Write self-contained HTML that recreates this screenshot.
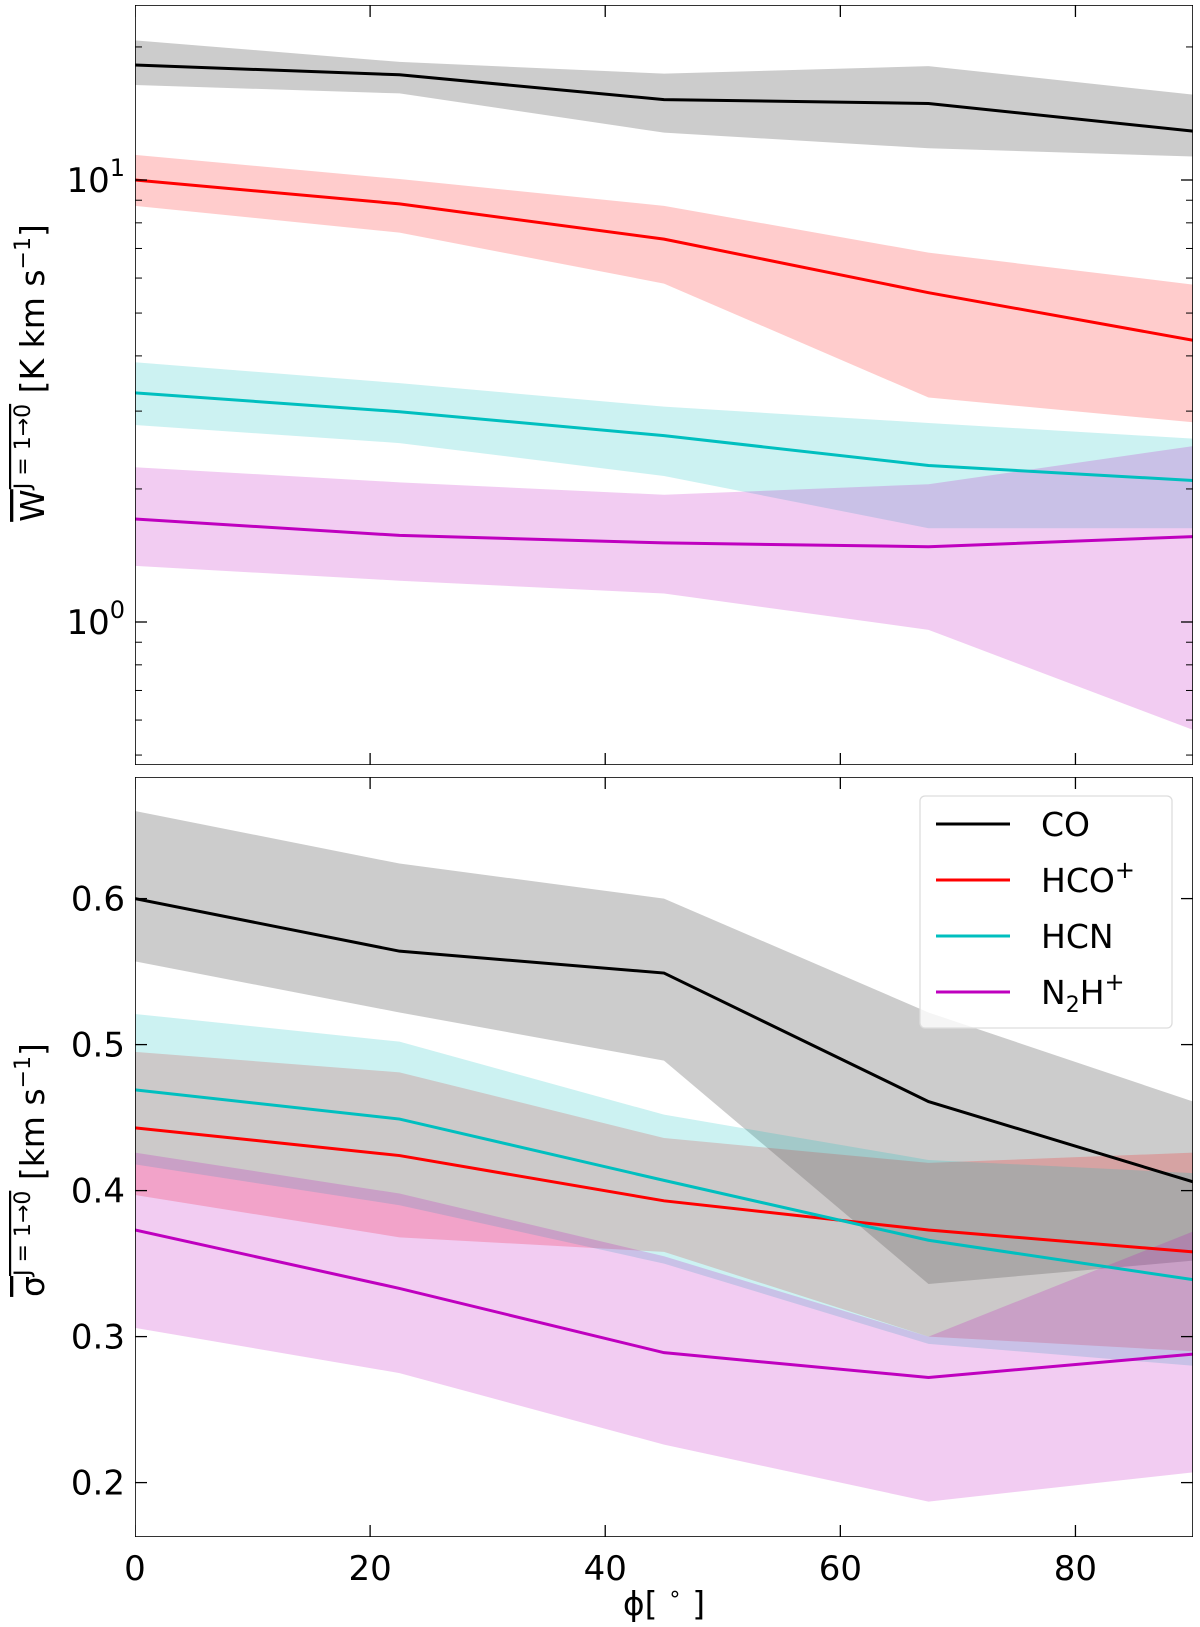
<!DOCTYPE html>
<html><head><meta charset="utf-8"><style>
html,body{margin:0;padding:0;background:#fff;}
svg{display:block;font-family:"DejaVu Sans","Liberation Sans",sans-serif;}
</style></head><body>
<svg id="chart" width="1200" height="1627" viewBox="0 0 1200 1627" xmlns="http://www.w3.org/2000/svg">
<g id="top-panel"></g>
<g id="bot-panel"></g>
<text transform="translate(44,373) rotate(-90)" text-anchor="middle" font-size="33"><tspan text-decoration="overline">W<tspan font-size="22" dy="-14">J = 1→0</tspan></tspan><tspan dy="14"> [K km s</tspan><tspan font-size="22" dy="-14">−1</tspan><tspan dy="14">]</tspan></text>
<text transform="translate(44,1170) rotate(-90)" text-anchor="middle" font-size="33"><tspan text-decoration="overline">σ<tspan font-size="22" dy="-14">J = 1→0</tspan></tspan><tspan dy="14"> [km s</tspan><tspan font-size="22" dy="-14">−1</tspan><tspan dy="14">]</tspan></text>
<text x="664" y="1615" text-anchor="middle" font-size="33">ϕ[ <tspan font-size="22" dy="-14">∘</tspan><tspan dy="14"> ]</tspan></text>
<g id="legend"></g>
</svg>
<script>
const phi = [0, 22.5, 45, 67.5, 90];
const species = ["CO", "HCO+", "HCN", "N2H+"];
const colors = ["#000000", "#ff0000", "#00bfbf", "#bf00bf"];
// Top panel: integrated intensity W [K km/s]
const wCO = [18.2, 17.3, 15.2, 14.9, 12.9];
const wCOlo = [16.4, 15.7, 12.8, 11.8, 11.3];
const wCOhi = [20.7, 18.5, 17.4, 18.1, 15.6];
const wHCO = [10.0, 8.83, 7.35, 5.56, 4.34];
const wHCOlo = [8.74, 7.6, 5.83, 3.22, 2.83];
const wHCOhi = [11.4, 10.05, 8.74, 6.85, 5.8];
const wHCN = [3.3, 2.99, 2.64, 2.26, 2.09];
const wHCNlo = [2.79, 2.54, 2.14, 1.63, 1.63];
const wHCNhi = [3.87, 3.47, 3.07, 2.82, 2.6];
const wN2H = [1.71, 1.57, 1.51, 1.48, 1.56];
const wN2Hlo = [1.34, 1.24, 1.16, 0.96, 0.57];
const wN2Hhi = [2.24, 2.07, 1.94, 2.05, 2.5];
// Bottom panel: velocity dispersion sigma [km/s]
const sCO = [0.6, 0.564, 0.549, 0.461, 0.406];
const sCOlo = [0.557, 0.522, 0.489, 0.336, 0.352];
const sCOhi = [0.66, 0.624, 0.6, 0.522, 0.461];
const sHCO = [0.443, 0.424, 0.393, 0.373, 0.358];
const sHCOlo = [0.397, 0.368, 0.358, 0.30, 0.29];
const sHCOhi = [0.495, 0.481, 0.436, 0.419, 0.426];
const sHCN = [0.469, 0.449, 0.407, 0.366, 0.339];
const sHCNlo = [0.418, 0.39, 0.35, 0.295, 0.28];
const sHCNhi = [0.521, 0.502, 0.452, 0.421, 0.412];
const sN2H = [0.373, 0.333, 0.289, 0.272, 0.288];
const sN2Hlo = [0.306, 0.275, 0.226, 0.187, 0.207];
const sN2Hhi = [0.426, 0.398, 0.355, 0.30, 0.372];
const xTicks = [0, 20, 40, 60, 80];
const sTicks = [0.2, 0.3, 0.4, 0.5, 0.6];

const NS = "http://www.w3.org/2000/svg";
const L = 135, R = 1193;
const T1 = 5, B1 = 765, T2 = 777, B2 = 1537;
const xS = v => L + (v - 0) / 90 * (R - L);
const yTop = v => 180 - (Math.log10(v) - 1) * 442;
const yBot = v => 898.6 - (v - 0.6) * 1460;

function mk(tag, attrs, parent) {
  const e = document.createElementNS(NS, tag);
  for (const k in attrs) e.setAttribute(k, attrs[k]);
  parent.appendChild(e);
  return e;
}
const topG = document.getElementById('top-panel');
const botG = document.getElementById('bot-panel');

function drawPanel(g, yF, T, B, series, prefix) {
  series.forEach((s, i) => {
    const up = s.hi.map((v, k) => xS(phi[k]) + ',' + yF(v));
    const dn = s.lo.map((v, k) => xS(phi[k]) + ',' + yF(v)).reverse();
    const band = mk('polygon', {points: up.concat(dn).join(' '), fill: colors[i], 'fill-opacity': 0.2, stroke: 'none'}, g);
    
    
  });
  series.forEach((s, i) => {
    const pts = s.m.map((v, k) => xS(phi[k]) + ',' + yF(v)).join(' ');
    const ln = mk('polyline', {points: pts, fill: 'none', stroke: colors[i], 'stroke-width': 3}, g);
    
    
  });
  const fr = mk('rect', {x: L, y: T, width: R - L, height: B - T, fill: 'none', stroke: '#000', 'stroke-width': 1.6}, g);
  
  
  xTicks.forEach(v => {
    const x = xS(v);
    const t1 = mk('line', {x1: x, x2: x, y1: B, y2: B - 12, stroke: '#000', 'stroke-width': 1.3}, g);
    
    
    const t2 = mk('line', {x1: x, x2: x, y1: T, y2: T + 12, stroke: '#000', 'stroke-width': 1.3}, g);
    
    
  });
}
function clipG(g, T, B, id) {
  const defs = mk('defs', {}, g);
  const cp = mk('clipPath', {id: id}, defs);
  mk('rect', {x: L, y: T, width: R - L, height: B - T}, cp);
  const inner = mk('g', {'clip-path': 'url(#' + id + ')'}, g);
  
  
  return inner;
}
const topInner = clipG(topG, T1, B1, 'clipTop');
drawPanel(topInner, yTop, T1, B1, [
  {m: wCO, lo: wCOlo, hi: wCOhi}, {m: wHCO, lo: wHCOlo, hi: wHCOhi},
  {m: wHCN, lo: wHCNlo, hi: wHCNhi}, {m: wN2H, lo: wN2Hlo, hi: wN2Hhi}], 'top');
const botInner = clipG(botG, T2, B2, 'clipBot');
drawPanel(botInner, yBot, T2, B2, [
  {m: sCO, lo: sCOlo, hi: sCOhi}, {m: sHCO, lo: sHCOlo, hi: sHCOhi},
  {m: sHCN, lo: sHCNlo, hi: sHCNhi}, {m: sN2H, lo: sN2Hlo, hi: sN2Hhi}], 'bottom');

const majors = [1, 10];
majors.forEach((v, j) => {
  const y = yTop(v);
  [[L, L + 12], [R, R - 12]].forEach(p => {
    const t = mk('line', {x1: p[0], x2: p[1], y1: y, y2: y, stroke: '#000', 'stroke-width': 1.3}, topG);
    
    
  });
  const lab = mk('text', {x: 125, y: y + 12, 'text-anchor': 'end', 'font-size': 34}, topG);
  
  
  lab.innerHTML = '10<tspan font-size="24" dy="-16">' + (j === 0 ? '0' : '1') + '</tspan>';
});
[0.5,0.6,0.7,0.8,0.9,2,3,4,5,6,7,8,9,20].forEach(v => {
  const y = yTop(v);
  if (y < T1 || y > B1) return;
  [[L, L + 7], [R, R - 7]].forEach(p => {
    const t = mk('line', {x1: p[0], x2: p[1], y1: y, y2: y, stroke: '#000', 'stroke-width': 1}, topG);
    
    
  });
});
sTicks.forEach(v => {
  const y = yBot(v);
  [[L, L + 12], [R, R - 12]].forEach(p => {
    const t = mk('line', {x1: p[0], x2: p[1], y1: y, y2: y, stroke: '#000', 'stroke-width': 1.3}, botG);
    
    
  });
  const lab = mk('text', {x: 125, y: y + 12, 'text-anchor': 'end', 'font-size': 34}, botG);
  
  
  lab.textContent = v.toFixed(1);
});
xTicks.forEach(v => {
  const lab = mk('text', {x: xS(v), y: 1580, 'text-anchor': 'middle', 'font-size': 34}, botG);
  
  
  lab.textContent = v;
});
const lg = document.getElementById('legend');
const box = mk('rect', {x: 920, y: 796, width: 252, height: 232, rx: 5, fill: '#fff', 'fill-opacity': 0.8, stroke: '#ddd', 'stroke-width': 1.3}, lg);


const labels = ['CO', 'HCO<tspan font-size="24" dy="-14">+</tspan>', 'HCN', 'N<tspan font-size="22" dy="8">2</tspan><tspan dy="-8">H</tspan><tspan font-size="24" dy="-14">+</tspan>'];
species.forEach((s, i) => {
  const y = 824 + i * 56;
  const eg = mk('g', {}, lg);
  
  
  mk('line', {x1: 936, x2: 1010, y1: y, y2: y, stroke: colors[i], 'stroke-width': 3}, eg);
  const t = mk('text', {x: 1041, y: y + 12, 'font-size': 33}, eg);
  t.innerHTML = labels[i];
});
</script>
</body></html>
